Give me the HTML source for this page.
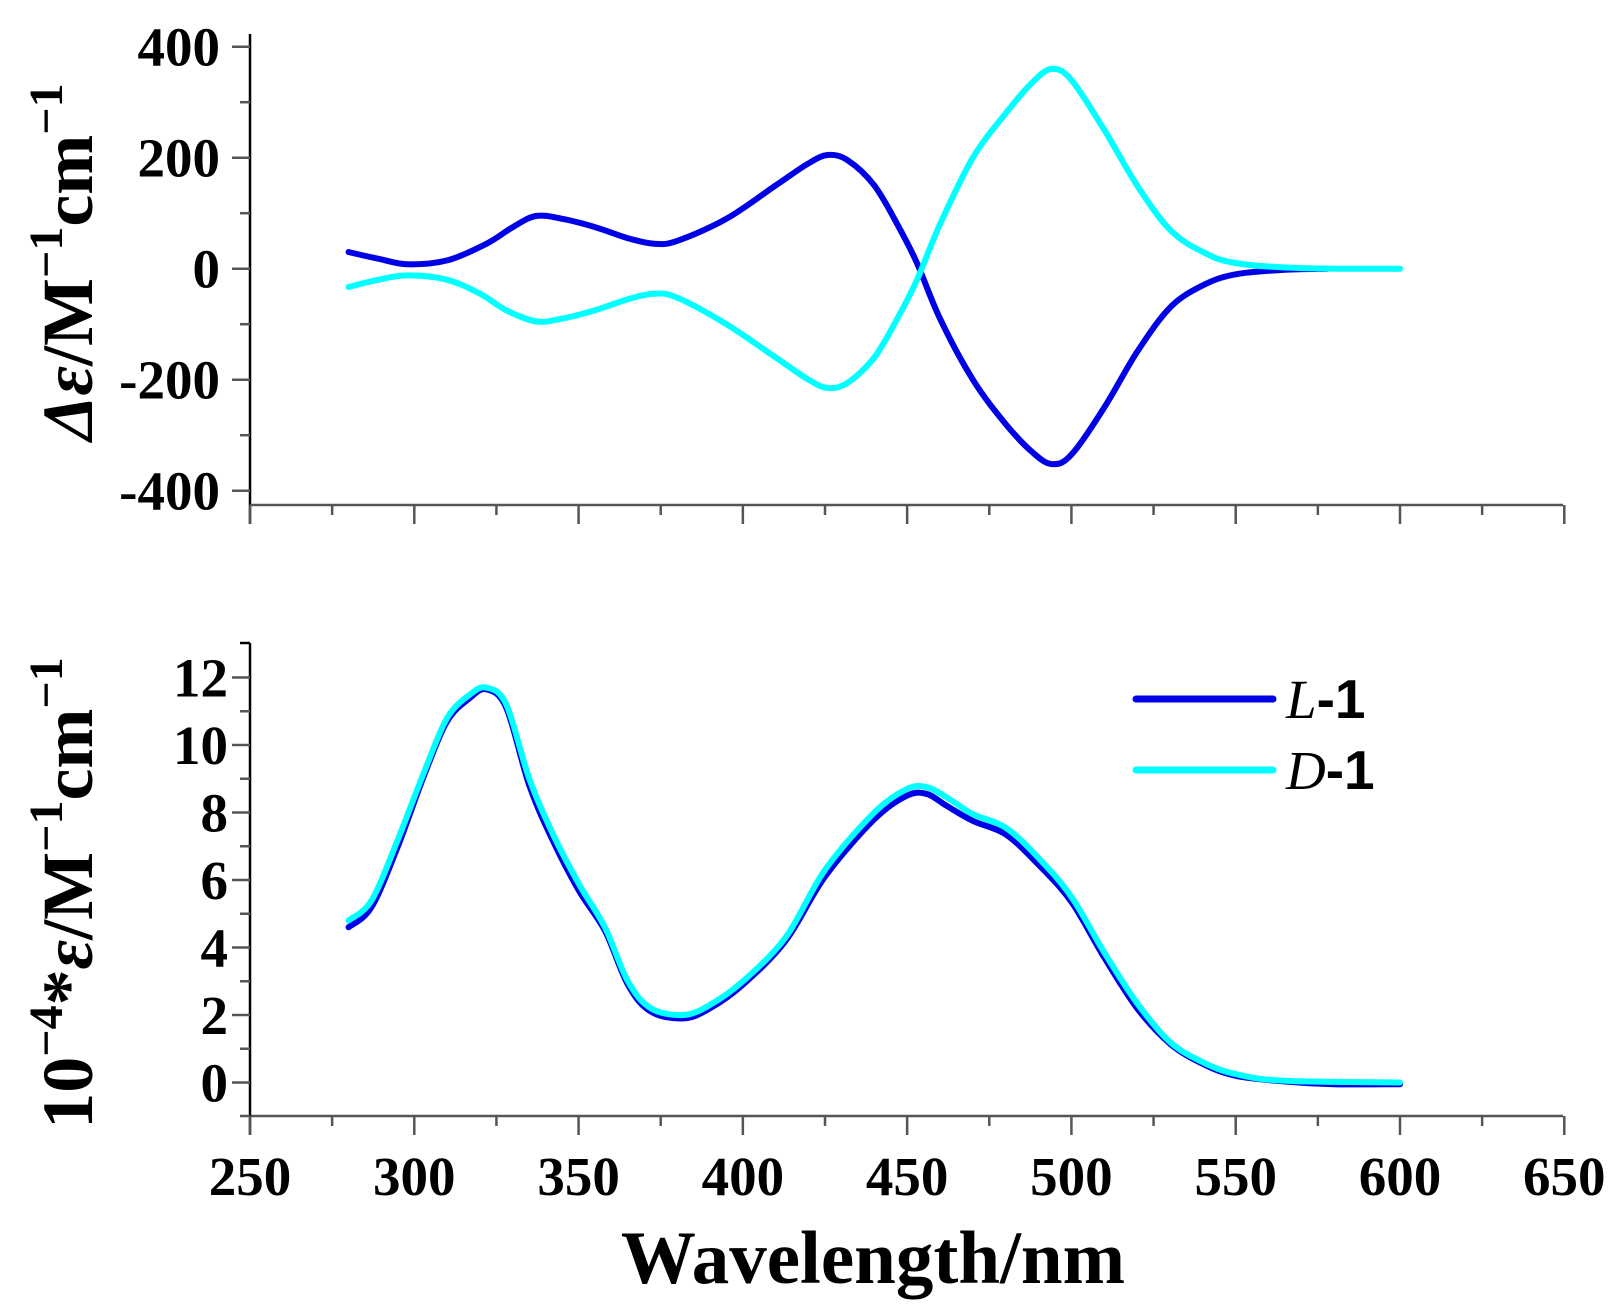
<!DOCTYPE html>
<html><head><meta charset="utf-8"><style>
html,body{margin:0;padding:0;background:#fff;}
svg{display:block;}
text{font-family:"Liberation Serif",serif;font-weight:bold;fill:#000;}
</style></head><body>
<svg id="s" width="1619" height="1308" viewBox="0 0 1619 1308" xmlns="http://www.w3.org/2000/svg">
<g id="axes" stroke="#555" stroke-width="2.5" fill="none"></g>
<g id="labels" font-size="55"></g>
<g id="curves" fill="none" stroke-width="6" stroke-linecap="round" stroke-linejoin="round"></g>
<line x1="1136" y1="699" x2="1273" y2="699" stroke="#0000e6" stroke-width="7" stroke-linecap="round"/>
<line x1="1136" y1="770" x2="1273" y2="770" stroke="#00ffff" stroke-width="7" stroke-linecap="round"/>
<text x="1286" y="718" font-size="55" style="font-weight:normal"><tspan font-style="italic" font-family="Liberation Serif">L</tspan><tspan font-family="Liberation Sans" font-weight="bold">-1</tspan></text>
<text x="1286" y="789" font-size="55" style="font-weight:normal"><tspan font-style="italic" font-family="Liberation Serif">D</tspan><tspan font-family="Liberation Sans" font-weight="bold">-1</tspan></text>
<text x="873" y="1283" font-size="75" text-anchor="middle">Wavelength/nm</text>
<text transform="translate(92,262) rotate(-90)" font-size="72" text-anchor="middle"><tspan font-style="italic">Δε</tspan>/M<tspan dy="-30" font-size="48">−1</tspan><tspan dy="30">cm</tspan><tspan dy="-30" font-size="48">−1</tspan></text>
<text transform="translate(92,893) rotate(-90)" font-size="72" text-anchor="middle">10<tspan dy="-30" font-size="48">−4</tspan><tspan dy="30">*</tspan><tspan font-style="italic">ε</tspan>/M<tspan dy="-30" font-size="48">−1</tspan><tspan dy="30">cm</tspan><tspan dy="-30" font-size="48">−1</tspan></text>
</svg>
<script>
var NS="http://www.w3.org/2000/svg";
function el(p,t,a,txt){var e=document.createElementNS(NS,t);for(var k in a)e.setAttribute(k,a[k]);if(txt!=null)e.textContent=txt;p.appendChild(e);return e;}
var ax=document.getElementById('axes'),lb=document.getElementById('labels'),cv=document.getElementById('curves');
function X(w){return 250+(w-250)*3.2857;}
function YT(v){return 268.7-v*0.555;}
function YB(v){return 1082.5-v*33.75;}
el(ax,'line',{x1:250,y1:34,x2:250,y2:524,stroke:'#000'});
el(ax,'line',{x1:250,y1:505,x2:1563,y2:505});
el(ax,'line',{x1:250,y1:1116,x2:1563,y2:1116});
el(ax,'line',{x1:250,y1:643,x2:250,y2:1135,stroke:'#000'});
el(ax,'line',{x1:240,y1:643,x2:250,y2:643,stroke:'#000'});
for(var w=250;w<=650;w+=25){var maj=(w%50==0);
 el(ax,'line',{x1:X(w),y1:505,x2:X(w),y2:maj?524:515});
 el(ax,'line',{x1:X(w),y1:1116,x2:X(w),y2:maj?1135:1126});
 if(maj)el(lb,'text',{x:X(w),y:1195,'text-anchor':'middle'},String(w));}
for(var v=-400;v<=400;v+=100){var maj=(v%200==0);
 el(ax,'line',{x1:maj?232:240,y1:YT(v),x2:250,y2:YT(v)});
 if(maj)el(lb,'text',{x:220,y:YT(v)+19,'text-anchor':'end'},v<0?'-'+(-v):String(v));}
for(var v=0;v<=12;v+=1){var maj=(v%2==0);
 el(ax,'line',{x1:maj?232:240,y1:YB(v),x2:250,y2:YB(v)});
 if(maj)el(lb,'text',{x:228,y:YB(v)+19,'text-anchor':'end'},String(v));}
el(ax,'line',{x1:240,y1:1116,x2:250,y2:1116});
function path(pts,fy,col){var P=pts.map(function(p){return [X(p[0]),fy(p[1])];});
 var d='M'+P[0][0]+','+P[0][1];
 for(var i=0;i<P.length-1;i++){var p0=P[i-1]||P[i],p1=P[i],p2=P[i+1],p3=P[i+2]||P[i+1];
  var c1=[p1[0]+(p2[0]-p0[0])/6,p1[1]+(p2[1]-p0[1])/6],c2=[p2[0]-(p3[0]-p1[0])/6,p2[1]-(p3[1]-p1[1])/6];
  d+=' C'+c1[0].toFixed(1)+','+c1[1].toFixed(1)+' '+c2[0].toFixed(1)+','+c2[1].toFixed(1)+' '+p2[0].toFixed(1)+','+p2[1].toFixed(1);}
 el(cv,'path',{d:d,stroke:col});}
var L=[[280,30],[289,18],[298,8],[310,15],[322,45],[330,75],[337,95],[345,90],[355,75],[365,55],[373,45],[380,50],[395,90],[410,150],[420,190],[426,205],[432,195],[440,150],[447,80],[453,10],[460,-90],[470,-200],[480,-280],[488,-330],[494,-352],[500,-335],[510,-250],[520,-150],[530,-70],[540,-30],[550,-10],[565,-2],[578,0]];
var D=[[280,-33],[289,-20],[298,-12],[310,-20],[320,-45],[328,-75],[337,-95],[345,-90],[355,-75],[365,-55],[373,-45],[380,-52],[395,-100],[410,-160],[420,-200],[426,-215],[432,-205],[440,-160],[447,-90],[453,-20],[460,80],[470,200],[480,280],[488,335],[494,360],[500,340],[510,250],[520,150],[530,70],[540,30],[550,10],[570,1],[600,0]];
var BL=[[280,4.6],[287,5.2],[295,7.0],[303,9.1],[310,10.7],[317,11.4],[322,11.65],[328,11.1],[335,8.8],[342,7.2],[350,5.7],[358,4.5],[365,2.9],[372,2.1],[382,1.9],[390,2.2],[400,2.9],[413,4.2],[425,6.1],[440,7.8],[450,8.5],[456,8.55],[462,8.2],[470,7.75],[480,7.35],[490,6.45],[500,5.35],[510,3.7],[520,2.2],[530,1.15],[540,0.55],[550,0.2],[565,0.03],[580,-0.05],[600,-0.05]];
var BD=[[280,4.8],[287,5.4],[295,7.2],[303,9.2],[310,10.8],[317,11.5],[322,11.7],[328,11.2],[335,9.0],[342,7.4],[350,5.9],[358,4.6],[365,3.0],[372,2.2],[382,2.0],[390,2.3],[400,3.0],[413,4.3],[425,6.3],[440,8.0],[450,8.7],[456,8.75],[462,8.45],[470,7.95],[480,7.55],[490,6.65],[500,5.5],[510,3.85],[520,2.35],[530,1.2],[540,0.6],[550,0.25],[565,0.05],[600,0]];
path(L,YT,'#0000e6');path(D,YT,'#00ffff');
path(BL,YB,'#0000e6');path(BD,YB,'#00ffff');
</script>
</body></html>
